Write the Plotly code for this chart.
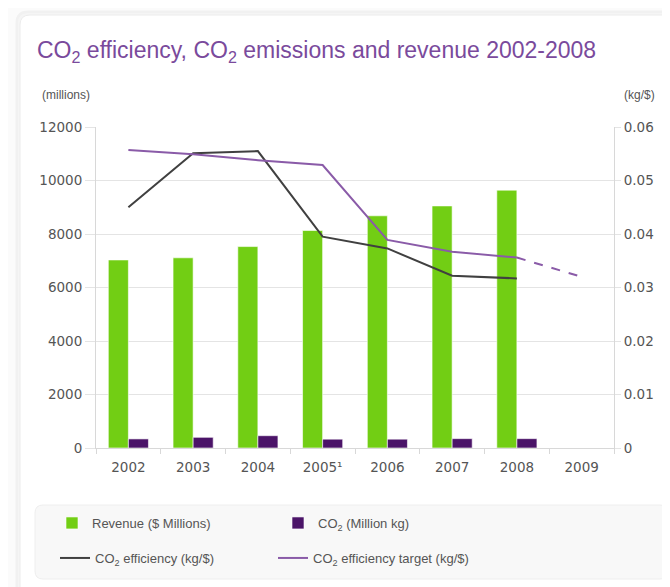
import plotly.graph_objects as go

# --- Data ---
YEARS = ['2002', '2003', '2004', '2005', '2006', '2007', '2008', '2009']
YEAR_LABELS = ['2002', '2003', '2004', '2005¹', '2006', '2007', '2008', '2009']
REVENUE = [7030, 7110, 7530, 8130, 8680, 9050, 9640, None]          # $ millions
CO2_EMISSIONS = [340, 400, 460, 330, 330, 350, 350, None]           # million kg
CO2_EFFICIENCY = [0.0450, 0.0551, 0.0555, 0.0395, 0.0373, 0.0322, 0.0317, None]
CO2_TARGET = [0.0557, 0.0549, 0.0538, 0.0529, 0.0389, 0.0367, 0.0356, None]
CO2_TARGET_FORECAST = [None, None, None, None, None, None, 0.0356, 0.0320]

# --- Styling ---
COLOR_REVENUE = '#72ce14'
COLOR_CO2 = '#4b1468'
COLOR_EFF = '#404040'
COLOR_TARGET = '#8a5ba8'
COLOR_TITLE = '#7a4a9c'
COLOR_TEXT = '#555555'
COLOR_GRID = '#e4e4e4'
FONT = 'Liberation Sans, Arial, sans-serif'
TICK_FONT = dict(family='DejaVu Sans, sans-serif', size=13.5, color=COLOR_TEXT)

# page is 670x587, the body margin pushes the figure 8px right/down
OFF = 8
W, H = 670 - OFF, 587 - OFF
PLOT_L, PLOT_R, PLOT_T, PLOT_B = 96, 614, 127, 448   # page pixels
L, R, T, B = PLOT_L - OFF, W - (PLOT_R - OFF), PLOT_T - OFF, H - (PLOT_B - OFF)
PW, PH = W - L - R, H - T - B


def px(x):
    """page pixel -> paper x"""
    return (x - OFF - L) / PW


def py(y):
    """page pixel -> paper y"""
    return (H - B - (y - OFF)) / PH


def rounded_rect(x0, y0, x1, y1, r):
    """SVG path (paper coords) of a rounded rectangle given in page pixels."""
    return (f"M {px(x0 + r)},{py(y0)} L {px(x1 - r)},{py(y0)} "
            f"Q {px(x1)},{py(y0)} {px(x1)},{py(y0 + r)} "
            f"L {px(x1)},{py(y1 - r)} Q {px(x1)},{py(y1)} {px(x1 - r)},{py(y1)} "
            f"L {px(x0 + r)},{py(y1)} Q {px(x0)},{py(y1)} {px(x0)},{py(y1 - r)} "
            f"L {px(x0)},{py(y0 + r)} Q {px(x0)},{py(y0)} {px(x0 + r)},{py(y0)} Z")


fig = go.Figure()

fig.add_trace(go.Bar(x=YEARS, y=REVENUE, name='Revenue ($ Millions)',
                     marker=dict(color=COLOR_REVENUE,
                                 line=dict(color='rgba(255,255,255,0.6)', width=1)),
                     legend='legend'))
fig.add_trace(go.Bar(x=YEARS, y=CO2_EMISSIONS, name='CO<sub>2</sub> (Million kg)',
                     marker=dict(color=COLOR_CO2,
                                 line=dict(color='rgba(255,255,255,0.6)', width=1)),
                     legend='legend'))
fig.add_trace(go.Scatter(x=YEARS, y=CO2_EFFICIENCY, name='CO<sub>2</sub> efficiency (kg/$)',
                         mode='lines', line=dict(color=COLOR_EFF, width=2),
                         yaxis='y2', legend='legend2'))
fig.add_trace(go.Scatter(x=YEARS, y=CO2_TARGET, name='CO<sub>2</sub> efficiency target (kg/$)',
                         mode='lines', line=dict(color=COLOR_TARGET, width=2),
                         yaxis='y2', legend='legend2'))
fig.add_trace(go.Scatter(x=YEARS, y=CO2_TARGET_FORECAST, showlegend=False,
                         mode='lines', line=dict(color=COLOR_TARGET, width=2, dash='dash'),
                         yaxis='y2'))

legend_style = dict(orientation='h', xanchor='left', yanchor='middle',
                    bgcolor='rgba(0,0,0,0)',
                    font=dict(family=FONT, size=13, color=COLOR_TEXT),
                    entrywidthmode='pixels', itemwidth=30, traceorder='normal')

fig.update_layout(
    width=W, height=H,
    margin=dict(l=L, r=R, t=T, b=B, autoexpand=False),
    paper_bgcolor='#fbfbfb',
    plot_bgcolor='rgba(0,0,0,0)',
    font=dict(family=FONT, size=13, color=COLOR_TEXT),
    barmode='group', bargap=0.38, bargroupgap=0,
    title=dict(text='CO<sub>2</sub> efficiency, CO<sub>2</sub> emissions and revenue 2002-2008',
               x=(37 - OFF) / W, xanchor='left', xref='container',
               y=1 - (50 - OFF) / H, yanchor='middle', yref='container',
               font=dict(family=FONT, size=23, color=COLOR_TITLE)),
    legend=dict(x=px(52), y=py(523), entrywidth=181, **legend_style),
    legend2=dict(x=px(55), y=py(558), entrywidth=173, **legend_style),
    xaxis=dict(type='category', tickvals=YEARS, ticktext=YEAR_LABELS,
               tickson='boundaries', ticks='outside', ticklen=5, tickcolor='#d8d8d8',
               showline=True, linecolor='#d8d8d8', showgrid=False,
               ticklabelstandoff=7, tickfont=TICK_FONT),
    yaxis=dict(range=[0, 12000], dtick=2000, showgrid=True, gridcolor=COLOR_GRID,
               showline=True, linecolor='#d8d8d8', ticks='outside', ticklen=10,
               tickcolor=COLOR_GRID, zeroline=False, tickformat='d',
               tickfont=TICK_FONT),
    yaxis2=dict(range=[0, 0.06], dtick=0.01, overlaying='y', side='right',
                showgrid=False, showline=True, linecolor='#d8d8d8', ticks='outside',
                ticklen=6, tickcolor=COLOR_GRID, zeroline=False,
                tickfont=TICK_FONT),
    hovermode='x unified',
)

# Card with a faint shadow, and the rounded legend panel
fig.add_shape(type='path', path=rounded_rect(18, 13, 720, 640, 10), xref='paper', yref='paper',
              line=dict(color='rgba(0,0,0,0.04)', width=5), fillcolor='white', layer='below')
fig.add_shape(type='path', path=rounded_rect(20, 15, 720, 640, 10), xref='paper', yref='paper',
              line=dict(color='#ececec', width=1), fillcolor='white', layer='below')
fig.add_shape(type='path', path=rounded_rect(35, 505, 668, 579, 8), xref='paper', yref='paper',
              line=dict(color='#eeeeee', width=1), fillcolor='#f8f8f8', layer='below')

fig.add_annotation(text='(millions)', xref='paper', yref='paper', x=px(40), y=py(95),
                   xanchor='left', yanchor='middle', showarrow=False,
                   font=dict(family=FONT, size=12, color=COLOR_TEXT))
fig.add_annotation(text='(kg/$)', xref='paper', yref='paper', x=px(657), y=py(95),
                   xanchor='right', yanchor='middle', showarrow=False,
                   font=dict(family=FONT, size=12, color=COLOR_TEXT))

fig.write_html("out.html")
